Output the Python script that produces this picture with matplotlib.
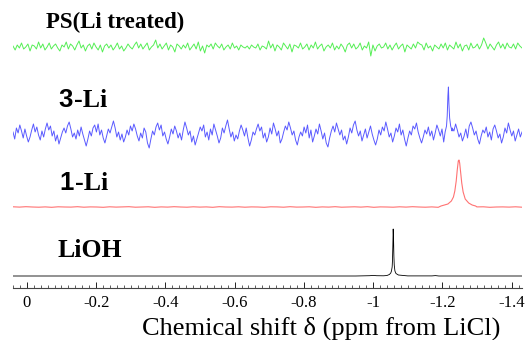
import numpy as np
import matplotlib
matplotlib.use('Agg')
import matplotlib.pyplot as plt

# ppm range of the recorded window
ppm_left, ppm_right = 0.04, -1.43

# PS(Li treated): noise only (arbitrary units, ~px)
green_noise = [
    1, -3, 2, -1, 4, -2, 0, 3, -4, 2, 1, -2, 5, -1, 3, -3, 0, 4, -2, 1,
    3, -1, -4, 2, 0, 5, -2, 3, 1, -3, 2, 6, -1, 2, -4, 1, 3, -2, 4, 0,
    -3, 2, -5, 1, 3, -1, 2, -3, 0, 4, -2, 1, -4, -1, 3, 0, -2, 2, 5, -1,
    3, -2, 1, 4, -3, 0, 2, 7, -1, 3, -2, 1, 4, -3, 2, 0, -5, 3, 1, -2,
    2, -1, 4, -3, 0, 3, -2, 5, -4, 1, -6, 2, 0, 3, -2, 4, 1, -1, 3, -3,
    0, 2, -2, 4, -1, 1, -3, 2, 0, -1, 1, -2, 2, 0, -1, 3, -3, 1, 0, -2,
    6, -1, 3, -4, 2, 0, -3, 4, 1, -2, 3, -5, 2, 1, -1, 4, -2, 0, 3, -3,
    2, -1, 5, -2, 1, 3, -4, 0, 2, -1, 4, -3, 1, -2, 3, 0, -5, 2, 4, -1,
    3, -2, 0, 4, -3, 1, -1, 5, -9, 2, -4, 1, 3, -1, 0, 4, -2, 2, -3, 1,
    4, -2, 1, 3, -5, 2, 0, -2, 3, -1, 5, 3, 2, -3, 4, -1, 1, -4, 2, 0,
    -2, 3, -1, 4, -3, 2, 0, -2, 5, -1, 3, -4, 1, 2, -3, 4, -1, 0, 3, -2,
    2, 9, 4, -2, 3, 0, -3, 2, 5, -1, 3, -2, 4, 0, -1, 3, -2, 4, 1, -1,
]

# 3-Li: noise plus a narrow spike
blue_noise = [
    2, -5, 6, 1, 9, 3, -4, 5, -2, -8, -3, 4, 10, 2, 7, -1, -6, 3, -3, 5,
    11, 4, 8, -2, 3, -7, -1, -10, -4, 2, 6, 1, 8, 12, 5, -3, 1, -5, 4, -2,
    7, 0, -6, -12, -5, 3, -2, 6, 9, 2, 10, -1, 4, -4, -9, -2, 5, 1, 7, 13,
    6, -3, 2, -6, 0, -8, -3, 4, -1, 8, 3, 10, 5, -2, -7, 1, -4, 6, 2, -9,
    -14, -5, 3, -1, 7, 11, 4, 9, -2, 2, -5, -10, -3, 5, 0, 8, 3, -4, 1, -6,
    4, 12, 6, -1, 3, -8, -2, -11, -5, 1, 7, 3, 9, -3, 2, -6, 5, -1, 10, 4,
    -2, -9, -4, 6, 1, 8, 14, 5, -3, 2, -7, -1, -5, 3, 9, 4, -2, 6, -4, -12,
    -6, 2, -1, 5, 10, 3, 7, -4, 1, -8, -3, 6, 0, 11, 5, -2, 3, -9, -5, 2,
    8, 4, 12, 6, -1, 3, -6, -11, -3, 2, -2, 7, 1, 9, -4, 4, -8, -2, 5, 0,
    10, 3, -5, 1, -9, -13, -4, 3, 8, 2, 11, 5, -1, 4, -6, -2, -10, -3, 6, 1,
    9, 13, 4, -2, 3, -7, -1, 5, -4, 2, 8, 0, -6, -11, -5, 4, -1, 7, 3, 12,
    5, -3, 1, -8, -2, 6, 2, 10, -1, 4, -5, -12, -4, 3, -1, 8, 5, 11, 2, -4,
    -9, -3, 4, 0, 7, -2, 3, -6, 1, 9, 4, -2, 5, -8, -14, -6, 2, -1, 6, 3,
    10, 4, -3, 1, -7, -2, 5, -4, 8, 12, 6, -1, 3, -5, -10, -2, 4, 1, 7, -3,
    2, -6, 5, 9, 3, -4, 0, -9, -3, 6, 1, 11, 4, -2, 3, -7, -1, 5, -3, 2,
]
blue_peak_ppm = [-1.208, -1.212, -1.214, -1.216, -1.2175, -1.219, -1.221, -1.224, -1.228]
blue_peak_val = [2, 8, 18, 38, 47, 30, 16, 8, 3]

# 1-Li: flat baseline plus a broad line
red_noise = [
    0.2, -0.1, 0.3, 0.0, -0.2, 0.1, -0.3, 0.2, 0.0, -0.1, 0.3, -0.2, 0.1, 0.0, -0.3, 0.2,
    -0.1, 0.1, 0.3, -0.2, 0.0, 0.2, -0.3, 0.1, -0.1, 0.3, 0.0, -0.2, 0.2, -0.1, 0.1, -0.3,
    0.3, 0.0, -0.1, 0.2, -0.2, 0.1, 0.0, -0.3, 0.2, 0.1, -0.2, 0.3, -0.1, 0.0, 0.2, -0.3,
    0.1, -0.1, 0.3, -0.2, 0.0, 0.2, -0.1, 0.3, -0.3, 0.1, 0.0, -0.2, 0.2, -0.1, 0.3, 0.0,
    -0.2, 0.1, -0.3, 0.2, 0.0, -0.1, 0.3, -0.2, 0.1, 0.2, -0.3, 0.0, 0.1, -0.1, 0.2, -0.2,
]
red_peak_ppm = [-1.196, -1.206, -1.216, -1.226, -1.232, -1.236, -1.240, -1.243, -1.246,
                -1.248, -1.250, -1.253, -1.256, -1.260, -1.266, -1.276, -1.286, -1.296]
red_peak_val = [1, 2, 3, 6, 10, 16, 26, 37, 46, 47, 44, 34, 24, 15, 8, 4, 2, 1]

# LiOH: clean baseline and a sharp line
black_base_ppm = [0.04, -0.95, -0.99, -1.00, -1.01, -1.03, -1.10, -1.17, -1.18, -1.19, -1.43]
black_base_val = [0, 0, 0.3, 0.6, 0.3, 0.2, 0.1, 0.1, 0.4, 0, 0]
black_peak_ppm = [-1.040, -1.047, -1.051, -1.053, -1.055, -1.056, -1.057, -1.058,
                  -1.059, -1.060, -1.061, -1.063, -1.066, -1.073]
black_peak_val = [0.5, 1.5, 3, 5, 9, 16, 30, 47, 38, 20, 11, 5, 2.5, 1]

names = ['PS(Li treated)', '3-Li', '1-Li', 'LiOH']
offsets = [241, 154, 81, 12]
colors = ['#55ee55', '#5a5aff', '#ff7272', 'black']

major_ticks = [0, -0.2, -0.4, -0.6, -0.8, -1.0, -1.2, -1.4]
major_labels = ['0', '-0.2', '-0.4', '-0.6', '-0.8', '-1', '-1.2', '-1.4']


def merge(xb, yb, xp, yp):
    xb = np.asarray(xb, float)
    yb = np.asarray(yb, float)
    keep = (xb > max(xp)) | (xb < min(xp))
    x = np.concatenate([xb[keep], xp])
    y = np.concatenate([yb[keep], yp])
    order = np.argsort(-x)
    return x[order], y[order]


serif = 'Liberation Serif'
W, H = 525, 340
fig = plt.figure(figsize=(W / 100, H / 100), dpi=100)
ax = fig.add_axes([13 / W, (H - 288) / H, 509 / W, 288 / H])

# traces
xg = np.linspace(ppm_left, ppm_right, len(green_noise))
ax.plot(xg, np.array(green_noise) + offsets[0], color=colors[0], lw=0.7)

xb = np.linspace(ppm_left, ppm_right, len(blue_noise))
x, y = merge(xb, blue_noise, blue_peak_ppm, blue_peak_val)
ax.plot(x, y + offsets[1], color=colors[1], lw=0.7)

xr = np.linspace(ppm_left, ppm_right, len(red_noise))
x, y = merge(xr, red_noise, red_peak_ppm, red_peak_val)
ax.plot(x, y + offsets[2], color=colors[2], lw=0.8)

x, y = merge(black_base_ppm, black_base_val, black_peak_ppm, black_peak_val)
ax.plot(x, y + offsets[3], color=colors[3], lw=0.6)

ax.set_xlim(ppm_left, ppm_right)
ax.set_ylim(0, 288)
ax.set_yticks([])
for s in ['left', 'right', 'top']:
    ax.spines[s].set_visible(False)
ax.spines['bottom'].set_linewidth(0.8)
ax.spines['bottom'].set_color('#444444')
ax.set_xticks(major_ticks)
ax.set_xticklabels(major_labels, fontfamily=serif, fontsize=12)
ax.set_xticks(np.arange(0.04, -1.44, -0.02), minor=True)
ax.tick_params(axis='x', which='major', direction='in', length=4, width=0.7, pad=5, colors='#222222')
ax.tick_params(axis='x', which='minor', direction='in', length=2.5, width=0.6, colors='#444444')
for lab in ax.get_xticklabels():
    lab.set_color('black')


def px(xp, yp):
    return xp / W, 1 - yp / H


# sample labels
fig.text(*px(46, 28), names[0], fontfamily=serif, fontweight='bold', fontsize=16.5, va='baseline')
fig.text(*px(73, 107), '3', fontfamily='Liberation Sans', fontweight='bold', fontsize=18.5,
         va='baseline', ha='right')
fig.text(*px(74, 107), '-Li', fontfamily=serif, fontweight='bold', fontsize=18.5, va='baseline')
fig.text(*px(74, 190), '1', fontfamily='Liberation Sans', fontweight='bold', fontsize=18.5,
         va='baseline', ha='right')
fig.text(*px(75, 190), '-Li', fontfamily=serif, fontweight='bold', fontsize=18.5, va='baseline')
fig.text(*px(58, 257), names[3], fontfamily=serif, fontweight='bold', fontsize=18.5, va='baseline')

fig.text(*px(321, 335), 'Chemical shift \u03b4 (ppm from LiCl)', fontfamily=serif, fontsize=19,
         ha='center', va='baseline')

fig.savefig('out.png', dpi=100)
